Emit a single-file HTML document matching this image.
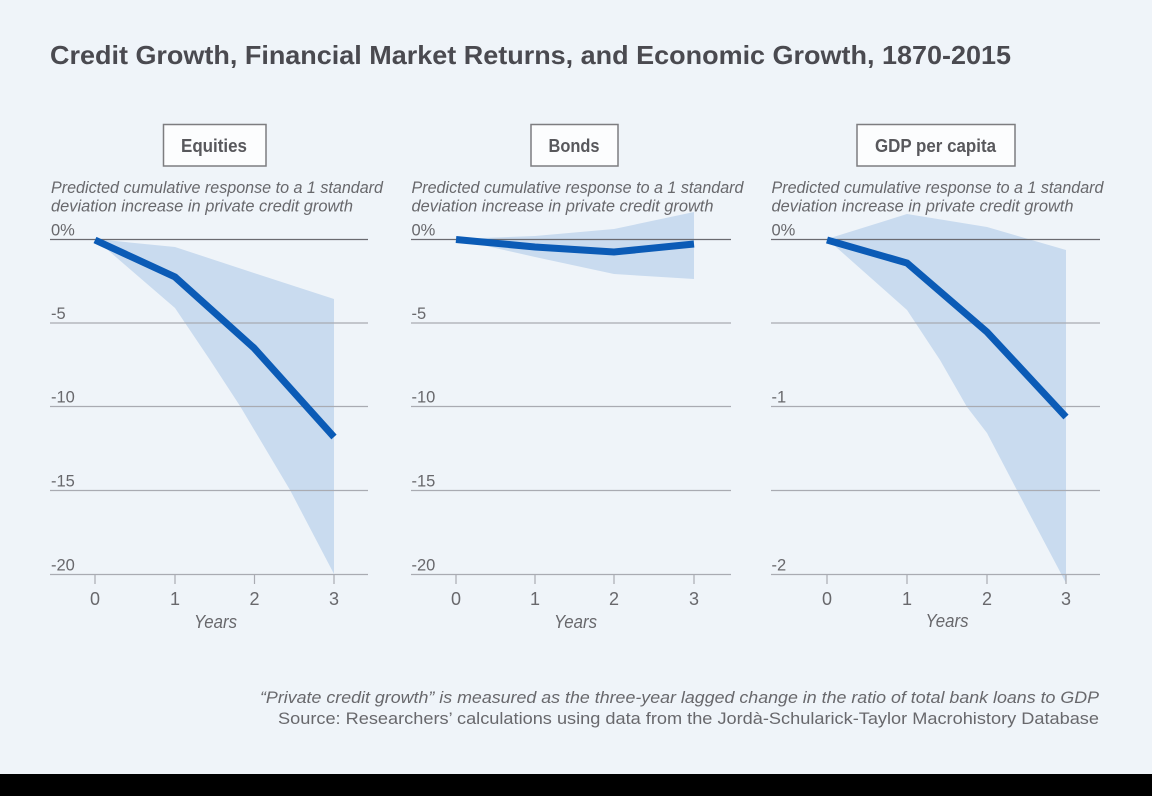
<!DOCTYPE html>
<html><head><meta charset="utf-8"><style>
html,body{margin:0;padding:0;background:#eff4f9;}
svg{display:block;}
text{font-family:"Liberation Sans",sans-serif;}
</style></head><body>
<svg width="1152" height="796" viewBox="0 0 1152 796" xmlns="http://www.w3.org/2000/svg">
<rect x="0" y="0" width="1152" height="796" fill="#eff4f9"/>
<rect x="0" y="774" width="1152" height="22" fill="#000"/>

<text x="50" y="64" font-size="26" font-weight="bold" fill="#4a4a50" textLength="961" lengthAdjust="spacingAndGlyphs">Credit Growth, Financial Market Returns, and Economic Growth, 1870-2015</text>

<!-- Boxes -->
<g stroke="#7d7d80" stroke-width="1.5" fill="#fcfdfe">
<rect x="163.5" y="124.5" width="102.5" height="41.5"/>
<rect x="531" y="124.5" width="87" height="41.5"/>
<rect x="857" y="124.5" width="158" height="41.5"/>
</g>
<g font-size="18.5" font-weight="bold" fill="#58585c">
<text x="181" y="152" textLength="66" lengthAdjust="spacingAndGlyphs">Equities</text>
<text x="548.5" y="152" textLength="51" lengthAdjust="spacingAndGlyphs">Bonds</text>
<text x="875" y="152" textLength="121" lengthAdjust="spacingAndGlyphs">GDP per capita</text>
</g>

<!-- subtitles -->
<g font-size="16.5" font-style="italic" fill="#68686c">
<text x="51" y="193" textLength="332" lengthAdjust="spacingAndGlyphs">Predicted cumulative response to a 1 standard</text>
<text x="51" y="211.5" textLength="302" lengthAdjust="spacingAndGlyphs">deviation increase in private credit growth</text>
<text x="411.5" y="193" textLength="332" lengthAdjust="spacingAndGlyphs">Predicted cumulative response to a 1 standard</text>
<text x="411.5" y="211.5" textLength="302" lengthAdjust="spacingAndGlyphs">deviation increase in private credit growth</text>
<text x="771.5" y="193" textLength="332" lengthAdjust="spacingAndGlyphs">Predicted cumulative response to a 1 standard</text>
<text x="771.5" y="211.5" textLength="302" lengthAdjust="spacingAndGlyphs">deviation increase in private credit growth</text>
</g>

<!-- bands -->
<g fill="#c9dbef">
<polygon points="95,239 175,247 254,273 334,299 334,574 290,490 240,406 210,360 175,308 95,239"/>
<polygon points="456,239 535,236 614,229 694,212 694,279 614,274 535,257 456,239"/>
<polygon points="827,239 907,214 987,227 1066,250 1066,583 1020,496 987,433 967,407 940,360 907,310 827,239"/>
</g>

<!-- gridlines -->
<g stroke="#a9abb2" stroke-width="1.2">
<line x1="50" y1="323" x2="368" y2="323"/>
<line x1="50" y1="406.5" x2="368" y2="406.5"/>
<line x1="50" y1="490.5" x2="368" y2="490.5"/>
<line x1="50" y1="574.5" x2="368" y2="574.5"/>
<line x1="411" y1="323" x2="731" y2="323"/>
<line x1="411" y1="406.5" x2="731" y2="406.5"/>
<line x1="411" y1="490.5" x2="731" y2="490.5"/>
<line x1="411" y1="574.5" x2="731" y2="574.5"/>
<line x1="771" y1="323" x2="1100" y2="323"/>
<line x1="771" y1="406.5" x2="1100" y2="406.5"/>
<line x1="771" y1="490.5" x2="1100" y2="490.5"/>
<line x1="771" y1="574.5" x2="1100" y2="574.5"/>
<!-- ticks -->
<line x1="95" y1="575" x2="95" y2="584"/>
<line x1="175" y1="575" x2="175" y2="584"/>
<line x1="254.5" y1="575" x2="254.5" y2="584"/>
<line x1="334" y1="575" x2="334" y2="584"/>
<line x1="456" y1="575" x2="456" y2="584"/>
<line x1="535" y1="575" x2="535" y2="584"/>
<line x1="614" y1="575" x2="614" y2="584"/>
<line x1="694" y1="575" x2="694" y2="584"/>
<line x1="827" y1="575" x2="827" y2="584"/>
<line x1="907" y1="575" x2="907" y2="584"/>
<line x1="987" y1="575" x2="987" y2="584"/>
<line x1="1066" y1="575" x2="1066" y2="584"/>
</g>
<g stroke="#6a6a70" stroke-width="1.3">
<line x1="50" y1="239.5" x2="368" y2="239.5"/>
<line x1="411" y1="239.5" x2="731" y2="239.5"/>
<line x1="771" y1="239.5" x2="1100" y2="239.5"/>
</g>

<!-- lines -->
<g fill="none" stroke="#0b5bb6" stroke-width="7" stroke-linejoin="miter">
<polyline points="95,240 175,277 254,348 334,437"/>
<polyline points="456,239.5 535,247 614,252 694,244"/>
<polyline points="827,240 907,263 987,332 1066,417"/>
</g>

<!-- y labels -->
<g font-size="16.5" fill="#68686c">
<text x="51" y="235.5">0%</text>
<text x="51" y="319">-5</text>
<text x="51" y="402.5">-10</text>
<text x="51" y="486.5">-15</text>
<text x="51" y="570.5">-20</text>
<text x="411.5" y="235.5">0%</text>
<text x="411.5" y="319">-5</text>
<text x="411.5" y="402.5">-10</text>
<text x="411.5" y="486.5">-15</text>
<text x="411.5" y="570.5">-20</text>
<text x="771.5" y="235.5">0%</text>
<text x="771.5" y="402.5">-1</text>
<text x="771.5" y="570.5">-2</text>
</g>
<!-- x labels -->
<g font-size="18" fill="#68686c" text-anchor="middle">
<text x="95" y="605">0</text>
<text x="175" y="605">1</text>
<text x="254.5" y="605">2</text>
<text x="334" y="605">3</text>
<text x="456" y="605">0</text>
<text x="535" y="605">1</text>
<text x="614" y="605">2</text>
<text x="694" y="605">3</text>
<text x="827" y="605">0</text>
<text x="907" y="605">1</text>
<text x="987" y="605">2</text>
<text x="1066" y="605">3</text>
</g>
<g font-size="18" font-style="italic" fill="#68686c">
<text x="194" y="628" textLength="43" lengthAdjust="spacingAndGlyphs">Years</text>
<text x="554" y="628" textLength="43" lengthAdjust="spacingAndGlyphs">Years</text>
<text x="925.5" y="627" textLength="43" lengthAdjust="spacingAndGlyphs">Years</text>
</g>

<!-- footnotes -->
<g font-size="17" fill="#68686c" text-anchor="end">
<text x="1099" y="703" font-style="italic" textLength="839" lengthAdjust="spacingAndGlyphs">“Private credit growth” is measured as the three-year lagged change in the ratio of total bank loans to GDP</text>
<text x="1099" y="724" textLength="821" lengthAdjust="spacingAndGlyphs">Source: Researchers’ calculations using data from the Jordà-Schularick-Taylor Macrohistory Database</text>
</g>
</svg>
</body></html>
